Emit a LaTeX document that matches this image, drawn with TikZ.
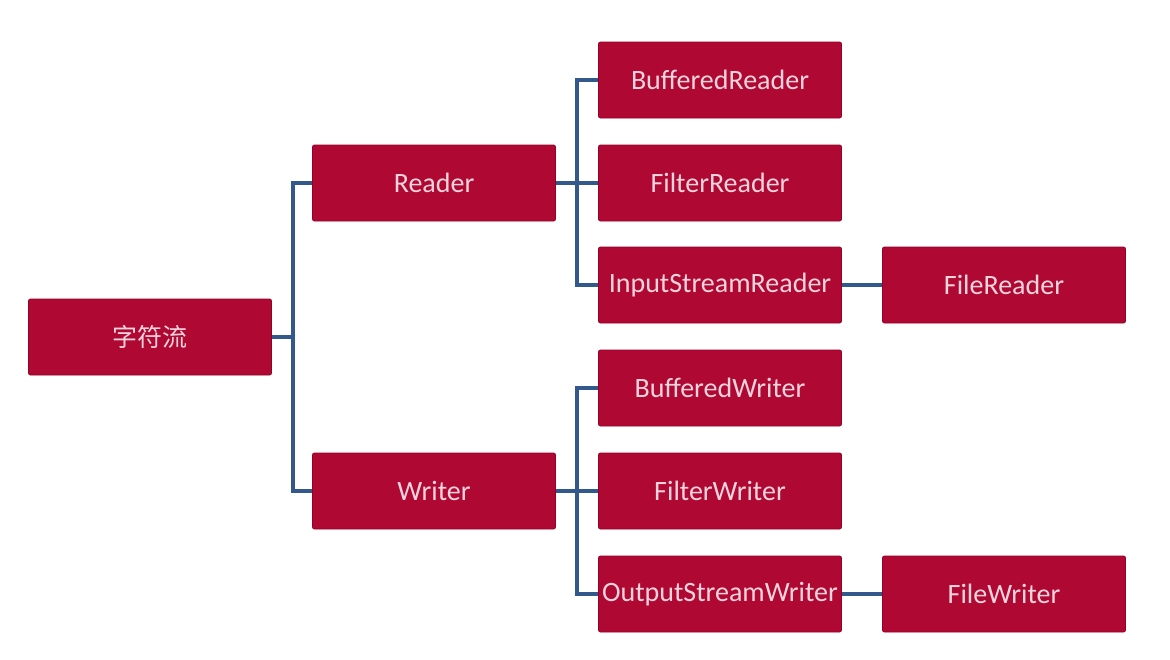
\documentclass[tikz,border=0pt]{standalone}
\usepackage{fontspec}
\usepackage{tikz}
\usepackage{xcolor}
\setmainfont{Carlito}
\newfontfamily\cjk{Noto Sans CJK SC}
\definecolor{boxred}{RGB}{175, 8, 50}
\definecolor{edgered}{RGB}{150, 0, 40}
\definecolor{textpink}{RGB}{246, 212, 222}
\definecolor{linkblue}{RGB}{50, 88, 140}
\tikzset{
  cls/.style = {fill = boxred, draw = edgered, line width = 0.8pt, text = textpink,
    minimum width = 243pt, minimum height = 76pt, inner sep = 0pt,
    rounded corners = 2pt, font = \fontsize{28}{32}\selectfont},
  link/.style = {linkblue, line width = 3.5pt}
}

\begin{document}
\begin{tikzpicture}[x = 1pt, y = -1pt]
\useasboundingbox (0,0) rectangle (1170,659);
\fill[white] (0,0) rectangle (1170,659);
% root
\node[cls, font = \fontsize{25}{30}\selectfont] (root) at (150,337) {\cjk 字符流};
% second level
\node[cls] (reader) at (434,183) {Reader};
\node[cls] (writer) at (434,491) {Writer};
% readers
\node[cls] (bufreader) at (720,80) {BufferedReader};
\node[cls] (filreader) at (720,183) {FilterReader};
\node[cls] (isreader) at (720,285) {InputStreamReader};
\node[cls] (filereader) at (1004,285) {FileReader};
% writers
\node[cls] (bufwriter) at (720,388) {BufferedWriter};
\node[cls] (filwriter) at (720,491) {FilterWriter};
\node[cls] (oswriter) at (720,594) {OutputStreamWriter};
\node[cls] (filewriter) at (1004,594) {FileWriter};
% links
\draw[link] (root.east) -- ++(21,0) |- (reader.west);
\draw[link] (root.east) -- ++(21,0) |- (writer.west);
\draw[link] (reader.east) -- ++(21,0) |- (bufreader.west);
\draw[link] (reader.east) -- (filreader.west);
\draw[link] (reader.east) -- ++(21,0) |- (isreader.west);
\draw[link] (isreader.east) -- (filereader.west);
\draw[link] (writer.east) -- ++(21,0) |- (bufwriter.west);
\draw[link] (writer.east) -- (filwriter.west);
\draw[link] (writer.east) -- ++(21,0) |- (oswriter.west);
\draw[link] (oswriter.east) -- (filewriter.west);
\end{tikzpicture}
\end{document}
